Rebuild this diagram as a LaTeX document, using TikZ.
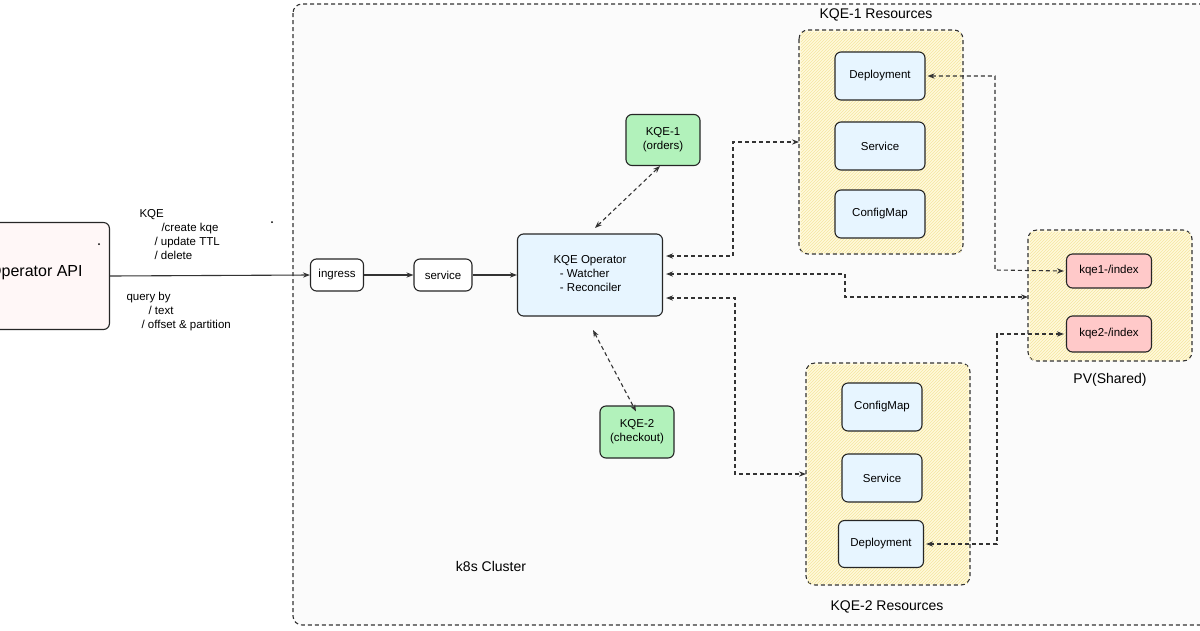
\documentclass[tikz,border=0pt]{standalone}
\usepackage{fontspec}
\setmainfont{Liberation Sans}
\usetikzlibrary{arrows.meta,patterns}
\definecolor{lblue}{HTML}{E7F5FF}
\definecolor{lgreen}{HTML}{B2F2BB}
\definecolor{lred}{HTML}{FFC9C9}
\definecolor{lyel}{HTML}{FFF9DB}
\definecolor{hyel}{HTML}{F5E6A0}
\begin{document}
\begin{tikzpicture}[x=1pt,y=-1pt,
 font=\fontsize{11.5}{14}\selectfont,
 box/.style={draw=black!85,line width=1.1pt,rounded corners=6pt,align=center,inner sep=0pt},
 blue/.style={box,fill=lblue},
 green/.style={box,fill=lgreen},
 red/.style={box,fill=lred},
 grp/.style={draw=black!80,dash pattern=on 4pt off 3pt,line width=1.1pt,rounded corners=9pt},
 da/.style={dash pattern=on 4pt off 3pt,line width=1.1pt,black!80,{Stealth[length=7pt]}-{Stealth[length=7pt]}},
 sa/.style={line width=1.1pt,black!80,-{Stealth[length=7pt]}}]
\useasboundingbox (0,0) rectangle (1200,630);
\clip (0,0) rectangle (1200,630);
% cluster
\draw[grp,fill=black!1.5] (293,4) rectangle (1212,625);
\node (k8s) at (491,566) {\fontsize{14}{16}\selectfont k8s Cluster};
% resources groups
\draw[grp,fill=lyel] (799,30) rectangle (963,254);
\fill[pattern=north east lines,pattern color=hyel] (801,32) rectangle (961,252);
\draw[grp,fill=lyel] (806,363) rectangle (970,585);
\fill[pattern=north east lines,pattern color=hyel] (808,365) rectangle (968,583);
\draw[grp,fill=lyel] (1028,230) rectangle (1192,361);
\fill[pattern=north east lines,pattern color=hyel] (1030,232) rectangle (1190,359);
\node (r1) at (876,15) {\fontsize{14}{16}\selectfont KQE-1 Resources};
\node (r2) at (887,607) {\fontsize{14}{16}\selectfont KQE-2 Resources};
\node (pvl) at (1110,380) {\fontsize{14}{16}\selectfont PV(Shared)};
\coordinate (g1) at (799,142);
\coordinate (g2) at (806,474);
\coordinate (pv) at (1028,297);
% nodes
\node[blue,minimum width=90pt,minimum height=48pt] (dep1) at (880,76) {Deployment};
\node[blue,minimum width=90pt,minimum height=48pt] (svc1) at (880,146) {Service};
\node[blue,minimum width=90pt,minimum height=48pt] (cm1) at (880,214) {ConfigMap};
\node[blue,minimum width=80pt,minimum height=48pt] (cm2) at (882,407) {ConfigMap};
\node[blue,minimum width=80pt,minimum height=48pt] (svc2) at (882,478) {Service};
\node[blue,minimum width=85pt,minimum height=47pt] (dep2) at (881,544) {Deployment};
\node[red,minimum width=85pt,minimum height=34pt] (pv1) at (1109,271) {kqe1-/index};
\node[red,minimum width=85pt,minimum height=36pt] (pv2) at (1109,334) {kqe2-/index};
\node[blue,minimum width=145pt,minimum height=82pt] (op) at (590,275) {\begin{tabular}{@{}l@{}}KQE Operator\\\ \ - Watcher\\\ \ - Reconciler\end{tabular}};
\node[green,minimum width=74pt,minimum height=51pt] (q1) at (663,140) {KQE-1\\(orders)};
\node[green,minimum width=74pt,minimum height=52pt] (q2) at (637,432) {KQE-2\\(checkout)};
\node[box,fill=white,minimum width=53pt,minimum height=32pt] (ing) at (337,275) {ingress};
\node[box,fill=white,minimum width=58pt,minimum height=32pt] (svc) at (443,275) {service};
\node[box,fill=red!3,minimum width=150pt,minimum height=107pt,anchor=east] (api) at (110,276) {};
\node[anchor=west,inner sep=0pt,font=\fontsize{16}{18}\selectfont] (apit) at (-11,273) {Operator API};
% labels
\node[anchor=west,align=left] (lab1) at (136,235) {KQE\\\hspace*{22pt}/create kqe\\\hspace*{15pt}/ update TTL\\\hspace*{15pt}/ delete};
\node[anchor=west,align=left] (lab2) at (123,312) {query by\\\hspace*{22pt}/ text\\\hspace*{15pt}/ offset \& partition};
\fill (272,222) circle (1pt) (99,244) circle (1pt);
% connectors
\draw[sa] (api.east) -- (ing.west);
\draw[sa] (ing) -- (svc);
\draw[sa] (svc) -- (op.west |- svc);
\draw[da] (595,228) -- (q1.south -| 660,0);
\draw[da] (593,330) -- ([yshift=-6pt,xshift=-1pt]q2.north);
\draw[da] ([xshift=3pt]op.east |- 0,256) -| (733,142) -- (g1);
\draw[da] ([xshift=3pt]op.east |- 0,298) -| (735,474) -- (g2);
\draw[da] ([xshift=3pt]op.east |- 0,274) -| (845,297) -- (pv);
\draw[da] ([xshift=2pt]dep1.east) -| (995,270) -- ([xshift=-2pt]pv1.west);
\draw[da] ([xshift=2pt]dep2.east) -| (997,334) -- ([xshift=-2pt]pv2.west);
\end{tikzpicture}
\end{document}
